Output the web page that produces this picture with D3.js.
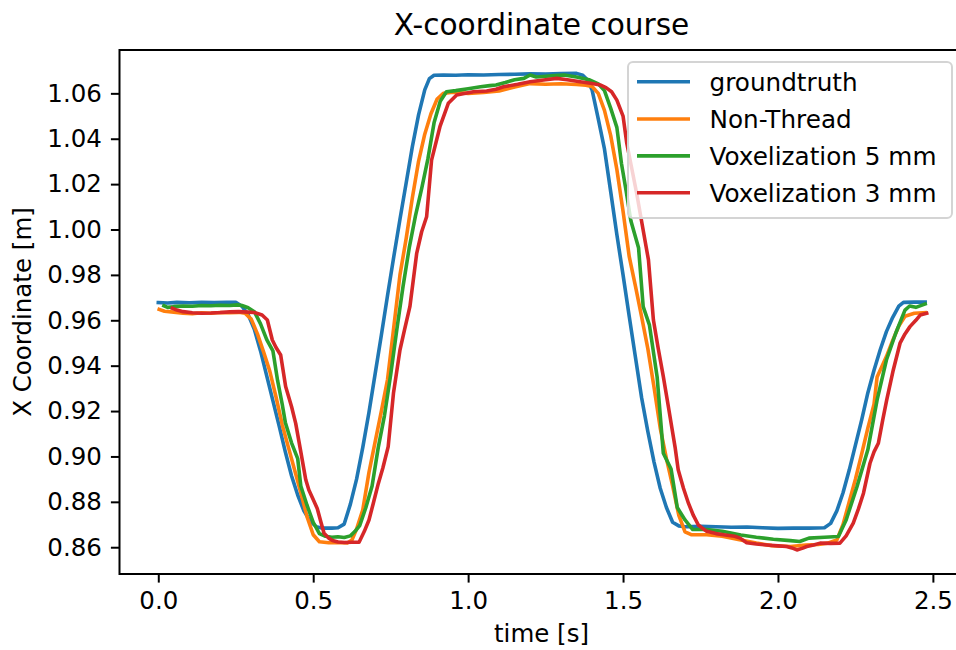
<!DOCTYPE html>
<html><head><meta charset="utf-8">
<script src="https://cdn.jsdelivr.net/npm/d3@7"></script>
<style>body{margin:0;background:#fff} svg{display:block} text{font-family:"DejaVu Sans",sans-serif;fill:#000}</style>
</head><body><svg id="c" width="956" height="650"></svg>
<script>
const xTicks = [0, 0.5, 1.0, 1.5, 2.0, 2.5];
const yTicks = [0.86, 0.88, 0.90, 0.92, 0.94, 0.96, 0.98, 1.00, 1.02, 1.04, 1.06];
const seriesNames = ["groundtruth", "Non-Thread", "Voxelization 5 mm", "Voxelization 3 mm"];
const seriesColors = ["#1f77b4", "#ff7f0e", "#2ca02c", "#d62728"];

const groundtruth = [[0.000,0.9678],[0.03,0.9676],[0.06,0.9679],[0.10,0.9677],[0.14,0.9679],[0.18,0.9678],[0.22,0.9679],[0.25,0.9679],[0.27,0.9662],[0.29,0.9625],[0.31,0.9560],[0.33,0.9465],[0.35,0.9355],[0.37,0.9245],[0.39,0.9135],[0.41,0.9020],[0.43,0.8915],[0.45,0.8830],[0.47,0.8760],[0.49,0.8715],[0.51,0.8690],[0.53,0.8684],[0.56,0.8684],[0.58,0.8686],[0.60,0.8702],[0.62,0.8790],[0.64,0.8900],[0.66,0.9040],[0.68,0.9195],[0.70,0.9365],[0.72,0.9535],[0.74,0.9710],[0.76,0.9880],[0.78,1.0045],[0.80,1.0205],[0.82,1.0365],[0.84,1.0505],[0.86,1.0615],[0.875,1.0665],[0.89,1.0680],[0.92,1.0681],[0.96,1.0680],[1.00,1.0682],[1.05,1.0681],[1.10,1.0683],[1.15,1.0684],[1.20,1.0686],[1.25,1.0685],[1.30,1.0687],[1.35,1.0688],[1.37,1.0680],[1.385,1.0660],[1.40,1.0615],[1.42,1.0487],[1.44,1.0355],[1.46,1.0168],[1.48,0.9978],[1.50,0.9800],[1.52,0.9617],[1.54,0.9437],[1.56,0.9258],[1.58,0.9110],[1.60,0.8975],[1.62,0.8860],[1.64,0.8775],[1.66,0.8710],[1.68,0.8694],[1.70,0.8690],[1.75,0.8692],[1.80,0.8690],[1.85,0.8688],[1.90,0.8689],[1.95,0.8686],[2.00,0.8683],[2.05,0.8684],[2.10,0.8684],[2.15,0.8686],[2.17,0.8705],[2.19,0.8760],[2.21,0.8840],[2.23,0.8940],[2.25,0.9050],[2.27,0.9160],[2.29,0.9280],[2.31,0.9380],[2.33,0.9470],[2.35,0.9550],[2.37,0.9612],[2.39,0.9662],[2.405,0.9679],[2.44,0.9680],[2.475,0.9680]];

const nonThread = [[0.003,0.9648],[0.02,0.9640],[0.05,0.9636],[0.08,0.9631],[0.11,0.9629],[0.14,0.9633],[0.17,0.9631],[0.20,0.9634],[0.23,0.9633],[0.26,0.9635],[0.28,0.9631],[0.30,0.9605],[0.32,0.9540],[0.34,0.9460],[0.36,0.9375],[0.38,0.9262],[0.40,0.9140],[0.42,0.9040],[0.44,0.8940],[0.46,0.8840],[0.48,0.8735],[0.50,0.8655],[0.52,0.8624],[0.55,0.8620],[0.58,0.8621],[0.61,0.8619],[0.625,0.8632],[0.64,0.8680],[0.66,0.8765],[0.68,0.8930],[0.70,0.9065],[0.72,0.9200],[0.74,0.9340],[0.76,0.9570],[0.78,0.9800],[0.80,0.9960],[0.82,1.0140],[0.84,1.0300],[0.86,1.0420],[0.88,1.0510],[0.90,1.0575],[0.92,1.0600],[0.95,1.0605],[1.00,1.0600],[1.05,1.0604],[1.10,1.0610],[1.15,1.0628],[1.20,1.0643],[1.25,1.0640],[1.30,1.0642],[1.35,1.0639],[1.38,1.0636],[1.40,1.0630],[1.42,1.0600],[1.44,1.0525],[1.46,1.0415],[1.48,1.0265],[1.50,1.0080],[1.52,0.9880],[1.54,0.9750],[1.56,0.9615],[1.58,0.9475],[1.60,0.9305],[1.62,0.9125],[1.64,0.8990],[1.66,0.8870],[1.68,0.8740],[1.70,0.8668],[1.72,0.8655],[1.77,0.8655],[1.82,0.8648],[1.88,0.8632],[1.93,0.8618],[1.98,0.8607],[2.04,0.8603],[2.09,0.8610],[2.13,0.8612],[2.16,0.8618],[2.19,0.8632],[2.21,0.8700],[2.23,0.8800],[2.25,0.8900],[2.27,0.9010],[2.29,0.9125],[2.31,0.9230],[2.32,0.9350],[2.35,0.9440],[2.37,0.9510],[2.39,0.9575],[2.41,0.9618],[2.44,0.9631],[2.475,0.9634]];

const vox5 = [[0.018,0.9664],[0.03,0.9657],[0.05,0.9660],[0.08,0.9663],[0.11,0.9662],[0.14,0.9665],[0.17,0.9664],[0.20,0.9666],[0.23,0.9665],[0.255,0.9668],[0.27,0.9665],[0.29,0.9655],[0.31,0.9638],[0.33,0.9584],[0.35,0.9515],[0.37,0.9465],[0.385,0.9335],[0.40,0.9230],[0.41,0.9150],[0.43,0.9060],[0.45,0.8990],[0.46,0.8870],[0.48,0.8785],[0.50,0.8710],[0.52,0.8660],[0.54,0.8648],[0.56,0.8644],[0.58,0.8646],[0.60,0.8643],[0.62,0.8650],[0.635,0.8670],[0.65,0.8695],[0.67,0.8775],[0.69,0.8870],[0.71,0.9040],[0.73,0.9180],[0.75,0.9360],[0.77,0.9560],[0.79,0.9750],[0.81,0.9920],[0.83,1.0060],[0.85,1.0180],[0.87,1.0310],[0.89,1.0470],[0.91,1.0565],[0.93,1.0607],[0.96,1.0612],[1.00,1.0620],[1.04,1.0629],[1.07,1.0634],[1.09,1.0637],[1.12,1.0648],[1.15,1.0660],[1.18,1.0666],[1.20,1.0681],[1.22,1.0672],[1.25,1.0675],[1.28,1.0678],[1.31,1.0681],[1.35,1.0672],[1.39,1.0660],[1.42,1.0642],[1.44,1.0612],[1.46,1.0535],[1.48,1.0450],[1.495,1.0290],[1.51,1.0170],[1.525,1.0040],[1.55,0.9920],[1.565,0.9660],[1.585,0.9580],[1.61,0.9350],[1.63,0.9014],[1.655,0.8945],[1.675,0.8775],[1.70,0.8720],[1.725,0.8678],[1.77,0.8678],[1.82,0.8670],[1.88,0.8654],[1.93,0.8644],[1.985,0.8635],[2.04,0.8629],[2.07,0.8625],[2.10,0.8640],[2.15,0.8644],[2.195,0.8647],[2.22,0.8720],[2.255,0.8867],[2.29,0.9029],[2.32,0.9249],[2.35,0.9425],[2.38,0.9543],[2.41,0.9645],[2.425,0.9663],[2.445,0.9657],[2.475,0.9672]];

const vox3 = [[0.045,0.9653],[0.06,0.9645],[0.08,0.9638],[0.11,0.9633],[0.14,0.9631],[0.17,0.9632],[0.20,0.9634],[0.23,0.9637],[0.26,0.9638],[0.29,0.9636],[0.31,0.9634],[0.335,0.9623],[0.352,0.9601],[0.368,0.9513],[0.38,0.9480],[0.395,0.9447],[0.411,0.9308],[0.43,0.9220],[0.4435,0.9146],[0.46,0.9020],[0.476,0.8897],[0.486,0.8852],[0.50,0.8810],[0.513,0.8771],[0.525,0.8710],[0.535,0.8662],[0.55,0.8640],[0.562,0.8630],[0.58,0.8623],[0.60,0.8621],[0.625,0.8622],[0.648,0.8622],[0.665,0.8670],[0.68,0.8720],[0.694,0.8794],[0.71,0.8880],[0.725,0.8950],[0.742,0.9043],[0.759,0.9278],[0.78,0.9469],[0.795,0.9560],[0.812,0.9660],[0.834,0.9895],[0.85,0.9990],[0.866,1.0056],[0.882,1.0306],[0.909,1.0453],[0.936,1.0556],[0.963,1.0593],[1.017,1.0607],[1.06,1.0610],[1.09,1.0618],[1.114,1.0629],[1.16,1.0640],[1.20,1.0651],[1.25,1.0660],[1.286,1.0666],[1.32,1.0660],[1.361,1.0651],[1.40,1.0643],[1.426,1.0637],[1.445,1.0625],[1.463,1.0607],[1.48,1.0570],[1.50,1.0500],[1.512,1.0380],[1.528,1.0270],[1.544,1.0159],[1.562,1.0020],[1.582,0.9866],[1.598,0.9601],[1.613,0.9480],[1.630,0.9352],[1.645,0.9230],[1.657,0.9131],[1.668,0.9040],[1.678,0.8941],[1.695,0.8860],[1.711,0.8794],[1.727,0.8740],[1.743,0.8698],[1.755,0.8685],[1.770,0.8670],[1.80,0.8660],[1.83,0.8654],[1.86,0.8648],[1.878,0.8640],[1.899,0.8620],[1.93,0.8614],[1.964,0.8610],[2.00,0.8606],[2.028,0.8603],[2.045,0.8597],[2.061,0.8588],[2.08,0.8596],[2.093,0.8603],[2.115,0.8610],[2.136,0.8618],[2.17,0.8617],[2.200,0.8618],[2.22,0.8650],[2.243,0.8706],[2.26,0.8770],[2.276,0.8838],[2.297,0.8970],[2.31,0.9020],[2.324,0.9058],[2.338,0.9160],[2.351,0.9249],[2.372,0.9380],[2.394,0.9499],[2.41,0.9540],[2.426,0.9572],[2.445,0.9600],[2.459,0.9623],[2.48,0.9631]];

const seriesData = [groundtruth, nonThread, vox5, vox3];

const svg = d3.select("#c");
const box = {left: 119.5, right: 963.5, top: 50, bottom: 574};
const x = d3.scaleLinear().domain([-0.1252, 2.5988]).range([box.left, box.right]);
const y = d3.scaleLinear().domain([0.8482, 1.0791]).range([box.bottom, box.top]);
const FS = 24.5;

svg.append("defs").append("clipPath").attr("id", "clip")
  .append("rect").attr("x", box.left).attr("y", box.top)
  .attr("width", box.right - box.left).attr("height", box.bottom - box.top);

const line = d3.line().x(d => x(d[0])).y(d => y(d[1]));
const plot = svg.append("g").attr("clip-path", "url(#clip)");
seriesData.forEach((s, i) => {
  plot.append("path").datum(s).attr("d", line)
    .attr("fill", "none").attr("stroke", seriesColors[i])
    .attr("stroke-width", 3.6).attr("stroke-linejoin", "round").attr("stroke-linecap", "square");
});

// axes
const xAxis = svg.append("g").attr("transform", `translate(0,${box.bottom})`)
  .call(d3.axisBottom(x).tickValues(xTicks).tickFormat(d3.format(".1f")).tickSize(8.6).tickPadding(9.5));
const yAxis = svg.append("g").attr("transform", `translate(${box.left},0)`)
  .call(d3.axisLeft(y).tickValues(yTicks).tickFormat(d3.format(".2f")).tickSize(8.6).tickPadding(9));
[xAxis, yAxis].forEach(a => {
  a.select(".domain").remove();
  a.selectAll(".tick line").attr("stroke", "#000").attr("stroke-width", 2);
  a.selectAll(".tick text").attr("font-size", FS).attr("font-family", "DejaVu Sans").attr("fill", "#000");
});

// spines
svg.append("rect").attr("x", box.left).attr("y", box.top)
  .attr("width", box.right - box.left).attr("height", box.bottom - box.top)
  .attr("fill", "none").attr("stroke", "#000").attr("stroke-width", 2);

// title & labels
svg.append("text").attr("x", (box.left + box.right) / 2).attr("y", 35)
  .attr("text-anchor", "middle").attr("font-size", 29.6).text("X-coordinate course");
svg.append("text").attr("x", (box.left + box.right) / 2).attr("y", 642)
  .attr("text-anchor", "middle").attr("font-size", FS).text("time [s]");
svg.append("text").attr("transform", `translate(31,${(box.top + box.bottom) / 2}) rotate(-90)`)
  .attr("text-anchor", "middle").attr("font-size", FS).text("X Coordinate [m]");

// legend
const lg = svg.append("g");
lg.append("rect").attr("x", 628).attr("y", 62).attr("width", 324).attr("height", 156)
  .attr("rx", 5).attr("fill", "#fff").attr("fill-opacity", 0.8)
  .attr("stroke", "#d4d4d4").attr("stroke-width", 2);
const rowY = [81.7, 119, 155.9, 192.7];
seriesNames.forEach((n, i) => {
  lg.append("line").attr("x1", 637).attr("x2", 690).attr("y1", rowY[i]).attr("y2", rowY[i])
    .attr("stroke", seriesColors[i]).attr("stroke-width", 3.6);
  lg.append("text").attr("x", 709.5).attr("y", rowY[i] + 9).attr("font-size", 24.7).text(n);
});
</script></body></html>
